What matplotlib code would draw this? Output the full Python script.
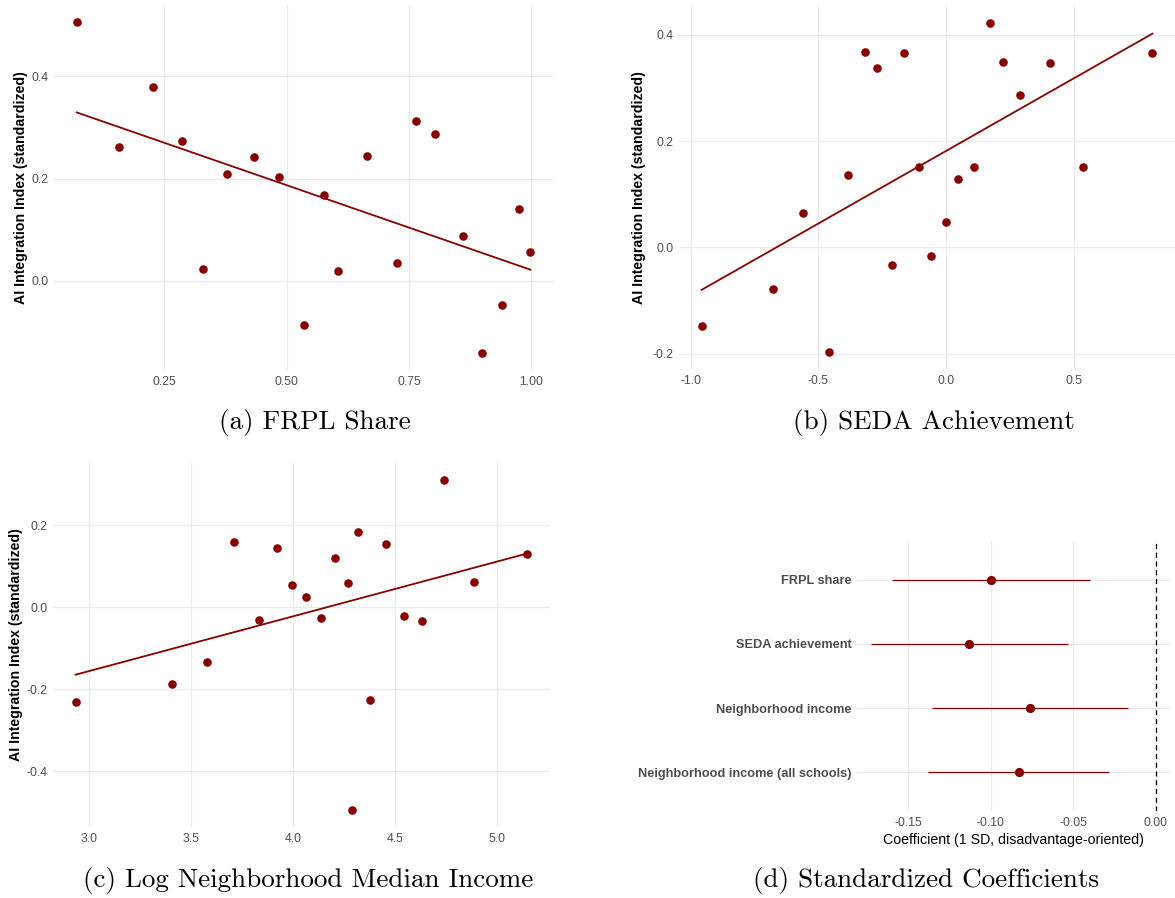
import numpy as np
import matplotlib
matplotlib.use("Agg")
import matplotlib.pyplot as plt

plt.rcParams['font.family'] = ['Liberation Sans', 'DejaVu Sans']
plt.rcParams['axes.unicode_minus'] = False

RED = '#860000'
GRID = '#ebebeb'
TXT = '#4d4d4d'

# (a) FRPL share vs AI index
frpl_x = [0.071, 0.157, 0.226, 0.286, 0.329, 0.379, 0.434, 0.485, 0.535, 0.577,
          0.605, 0.665, 0.726, 0.764, 0.804, 0.860, 0.899, 0.939, 0.974, 0.998]
frpl_y = [0.507, 0.261, 0.378, 0.273, 0.023, 0.208, 0.242, 0.203, -0.086, 0.168,
          0.020, 0.244, 0.034, 0.312, 0.287, 0.088, -0.142, -0.047, 0.141, 0.056]

# (b) SEDA achievement vs AI index
seda_x = [-0.957, -0.678, -0.559, -0.460, -0.383, -0.317, -0.272, -0.213, -0.164, -0.105,
          -0.057, 0.001, 0.048, 0.111, 0.172, 0.221, 0.291, 0.405, 0.537, 0.808]
seda_y = [-0.149, -0.079, 0.064, -0.198, 0.136, 0.367, 0.338, -0.033, 0.366, 0.152,
          -0.016, 0.048, 0.129, 0.151, 0.423, 0.349, 0.286, 0.346, 0.151, 0.366]

# (c) log neighborhood median income vs AI index
inc_x = [2.936, 3.410, 3.579, 3.711, 3.833, 3.922, 3.995, 4.064, 4.136, 4.203,
         4.269, 4.290, 4.318, 4.376, 4.457, 4.544, 4.630, 4.739, 4.886, 5.147]
inc_y = [-0.232, -0.187, -0.133, 0.160, -0.030, 0.146, 0.055, 0.026, -0.027, 0.120,
         0.059, -0.496, 0.183, -0.227, 0.155, -0.020, -0.033, 0.312, 0.061, 0.129]

# (d) standardized coefficients with 95% CIs
coef_labels = ["FRPL share", "SEDA achievement", "Neighborhood income",
               "Neighborhood income (all schools)"]
coef_est = [-0.100, -0.113, -0.076, -0.083]
coef_lo = [-0.160, -0.1725, -0.1355, -0.138]
coef_hi = [-0.040, -0.0535, -0.017, -0.0285]


def padded(lo, hi, frac=0.05):
    r = hi - lo
    return lo - frac * r, hi + frac * r


def minimal(ax):
    for s in ax.spines.values():
        s.set_visible(False)
    ax.grid(True, color=GRID, lw=0.9)
    ax.set_axisbelow(True)
    ax.tick_params(length=0, labelsize=8.8, labelcolor=TXT, pad=4)


def scatter_panel(ax, x, y, xticks, xfmt, yticks, ylab_x):
    x = np.asarray(x)
    y = np.asarray(y)
    slope, icpt = np.polyfit(x, y, 1)
    xs = np.array([x.min(), x.max()])
    ax.plot(xs, icpt + slope * xs, color=RED, lw=1.3, zorder=2)
    ax.scatter(x, y, s=38, color=RED, linewidths=0, zorder=3)
    ax.set_xlim(*padded(x.min(), x.max()))
    ax.set_ylim(*padded(y.min(), y.max()))
    ax.set_xticks(xticks)
    ax.set_xticklabels([xfmt.format(v) for v in xticks])
    ax.set_yticks(yticks)
    ax.set_yticklabels(['{:.1f}'.format(v) for v in yticks])
    minimal(ax)
    ax.set_ylabel('AI Integration Index (standardized)', fontsize=10.2,
                  fontweight='bold', color='black')
    ax.yaxis.set_label_coords(ylab_x, 0.5)


fig = plt.figure(figsize=(11.75, 8.98), dpi=100)

ax_a = fig.add_axes([0.046, 0.588, 0.4247, 0.4065])
scatter_panel(ax_a, frpl_x, frpl_y, [0.25, 0.50, 0.75, 1.00], '{:.2f}',
              [0.0, 0.2, 0.4], -0.052)

ax_b = fig.add_axes([0.5779, 0.5891, 0.4221, 0.4042])
scatter_panel(ax_b, seda_x, seda_y, [-1.0, -0.5, 0.0, 0.5], '{:.1f}',
              [-0.2, 0.0, 0.2, 0.4], -0.067)

ax_c = fig.add_axes([0.0451, 0.0791, 0.423, 0.4053])
scatter_panel(ax_c, inc_x, inc_y, [3.0, 3.5, 4.0, 4.5, 5.0], '{:.1f}',
              [-0.4, -0.2, 0.0, 0.2], -0.060)

# coefficient plot
ax_d = fig.add_axes([0.7294, 0.0969, 0.2664, 0.3007])
ypos = np.arange(len(coef_labels))[::-1] + 1
ax_d.hlines(ypos, coef_lo, coef_hi, color=RED, lw=0.9, zorder=2)
ax_d.scatter(coef_est, ypos, s=44, color=RED, linewidths=0, zorder=3)
ax_d.axvline(0, color='black', ls=(0, (4, 3)), lw=0.9, zorder=2)
ax_d.set_xlim(*padded(min(coef_lo), 0.0))
ax_d.set_ylim(0.4, len(coef_labels) + 0.6)
ax_d.set_xticks([-0.15, -0.10, -0.05, 0.00])
ax_d.set_xticklabels(['-0.15', '-0.10', '-0.05', '0.00'])
ax_d.set_yticks(ypos)
ax_d.set_yticklabels(coef_labels)
minimal(ax_d)
for lab in ax_d.get_yticklabels():
    lab.set_fontweight('bold')
    lab.set_fontsize(9.2)
ax_d.set_xlabel('Coefficient (1 SD, disadvantage-oriented)', fontsize=10.2,
                color='black', labelpad=3)

# subfigure captions
cap = dict(family='cmr10', fontsize=19.5, ha='center', va='center', color='black')
fig.text(0.268, 0.529, '(a) FRPL Share', **cap)
fig.text(0.795, 0.529, '(b) SEDA Achievement', **cap)
fig.text(0.262, 0.020, '(c) Log Neighborhood Median Income', **cap)
fig.text(0.788, 0.020, '(d) Standardized Coefficients', **cap)

fig.savefig('out.png', dpi=100, facecolor='white')
